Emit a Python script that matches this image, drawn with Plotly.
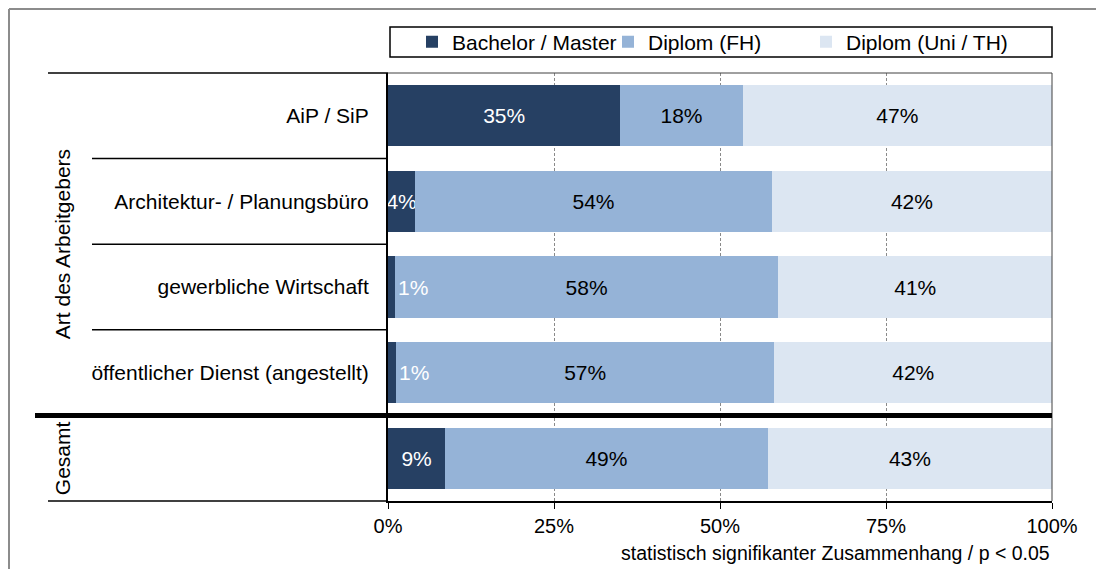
import plotly.graph_objects as go

categories = ["AiP / SiP", "Architektur- / Planungsbüro", "gewerbliche Wirtschaft",
              "öffentlicher Dienst (angestellt)", "Gesamt"]
tick_labels = ["AiP / SiP", "Architektur- / Planungsbüro", "gewerbliche Wirtschaft",
               "öffentlicher Dienst (angestellt)", ""]
series_names = ["Bachelor / Master", "Diplom (FH)", "Diplom (Uni / TH)"]
bachelor = [35.0, 4.1, 1.05, 1.25, 8.6]
diplom_fh = [18.4, 53.7, 57.7, 56.9, 48.6]
diplom_uni = [46.6, 42.2, 41.3, 41.9, 42.8]
x_ticks = [0, 25, 50, 75, 100]
x_tick_labels = ["0%", "25%", "50%", "75%", "100%"]
group_title = "Art des Arbeitgebers"
total_title = "Gesamt"
note = "statistisch signifikanter Zusammenhang / p < 0.05"

colors = ["#264063", "#95B3D7", "#DCE6F2"]
FONT = "Liberation Sans, Arial, sans-serif"
FS = 21


# page body has an 8px margin: screen px -> plot-relative paper coords
def px_x(px):
    return (px - 388) / 664


def px_y(py):
    return (501 - py) / 428


legend_ids = ["legend", "legend2", "legend3"]
legend_left_px = [412, 608, 806]

fig = go.Figure()
for name, vals, col, tcol, lid in zip(series_names, [bachelor, diplom_fh, diplom_uni], colors,
                                      ["white", "black", "black"], legend_ids):
    if name == series_names[0]:
        pos = ["inside" if v >= 3 else "none" for v in vals]
    else:
        pos = "inside"
    fig.add_trace(go.Bar(
        y=categories, x=vals, name=name, orientation="h",
        marker=dict(color=col, line=dict(width=0)),
        text=[f"{v:.0f}%" for v in vals], textposition=pos,
        insidetextanchor="middle", textangle=0, constraintext="none",
        textfont=dict(color=tcol, size=FS, family=FONT),
        hoverinfo="skip", legend=lid,
    ))

annotations = []
for c, v in zip(categories, bachelor):
    if v < 3:
        annotations.append(dict(x=v, y=c, xref="x", yref="y", text=f"{v:.0f}%",
                                showarrow=False, xanchor="left", xshift=1,
                                font=dict(color="white", size=FS, family=FONT)))

x_title = px_x(62)
annotations.append(dict(x=x_title, y=1.5, xref="paper", yref="y", text=group_title,
                        textangle=-90, showarrow=False, xanchor="center", yanchor="middle",
                        font=dict(color="black", size=FS, family=FONT)))
annotations.append(dict(x=x_title, y=categories[4], xref="paper", yref="y", text=total_title,
                        textangle=-90, showarrow=False, xanchor="center", yanchor="middle",
                        font=dict(color="black", size=FS, family=FONT)))
annotations.append(dict(x=1, y=px_y(553), xref="paper", yref="paper", text=note,
                        showarrow=False, xanchor="right", yanchor="middle",
                        font=dict(color="black", size=19.5, family=FONT)))

shapes = []
# outer gray frame
shapes.append(dict(type="line", xref="paper", yref="paper", x0=px_x(9), x1=px_x(1110),
                   y0=px_y(9), y1=px_y(9), line=dict(color="#8c8c8c", width=2)))
shapes.append(dict(type="line", xref="paper", yref="paper", x0=px_x(9), x1=px_x(9),
                   y0=px_y(9), y1=px_y(575), line=dict(color="#8c8c8c", width=2)))
# legend box
shapes.append(dict(type="rect", xref="paper", yref="paper", x0=px_x(390), x1=px_x(1052),
                   y0=px_y(27), y1=px_y(57), line=dict(color="black", width=1.5)))
# right and top border of plot
shapes.append(dict(type="line", xref="paper", yref="paper", x0=1, x1=1, y0=0, y1=1,
                   line=dict(color="#404040", width=1)))
shapes.append(dict(type="line", xref="paper", yref="paper", x0=0, x1=1, y0=1, y1=1,
                   line=dict(color="#404040", width=1)))
# label-area separators
shapes.append(dict(type="line", xref="paper", yref="paper", x0=px_x(48), x1=0, y0=1, y1=1,
                   line=dict(color="black", width=1.5)))
shapes.append(dict(type="line", xref="paper", yref="paper", x0=px_x(48), x1=0, y0=0, y1=0,
                   line=dict(color="black", width=1.5)))
for yb in [0.5, 1.5, 2.5]:
    shapes.append(dict(type="line", xref="paper", yref="y", x0=px_x(92), x1=0, y0=yb, y1=yb,
                       line=dict(color="black", width=1.5)))
shapes.append(dict(type="line", xref="paper", yref="y", x0=px_x(35), x1=1, y0=3.5, y1=3.5,
                   line=dict(color="black", width=5)))

legend_style = dict(orientation="h", xanchor="left", yanchor="middle", y=px_y(42),
                    font=dict(size=FS, family=FONT, color="black"),
                    bgcolor="rgba(0,0,0,0)", borderwidth=0, itemwidth=30)

fig.update_layout(
    width=1096, height=561,
    margin=dict(l=380, r=52, t=65, b=68),
    paper_bgcolor="white", plot_bgcolor="white",
    barmode="stack", bargap=0.287,
    font=dict(family=FONT, size=FS, color="black"),
    showlegend=True,
    legend=dict(x=px_x(legend_left_px[0]), **legend_style),
    legend2=dict(x=px_x(legend_left_px[1]), **legend_style),
    legend3=dict(x=px_x(legend_left_px[2]), **legend_style),
    xaxis=dict(range=[0, 100], tickvals=x_ticks, ticktext=x_tick_labels,
               showgrid=True, gridcolor="#8a8a8a", griddash="3px,2px", gridwidth=1,
               showline=True, linecolor="black", linewidth=1.5, mirror=False,
               ticks="outside", ticklen=6, tickcolor="black", zeroline=False,
               tickfont=dict(size=20, family=FONT), fixedrange=True),
    yaxis=dict(categoryorder="array", categoryarray=categories,
               range=[4.5, -0.5], tickvals=categories, ticktext=tick_labels,
               showline=True, linecolor="black", linewidth=2, showgrid=False,
               ticks="", ticklabelstandoff=13, tickfont=dict(size=FS, family=FONT),
               fixedrange=True),
    annotations=annotations,
    shapes=shapes,
)

fig.write_html("out.html")
